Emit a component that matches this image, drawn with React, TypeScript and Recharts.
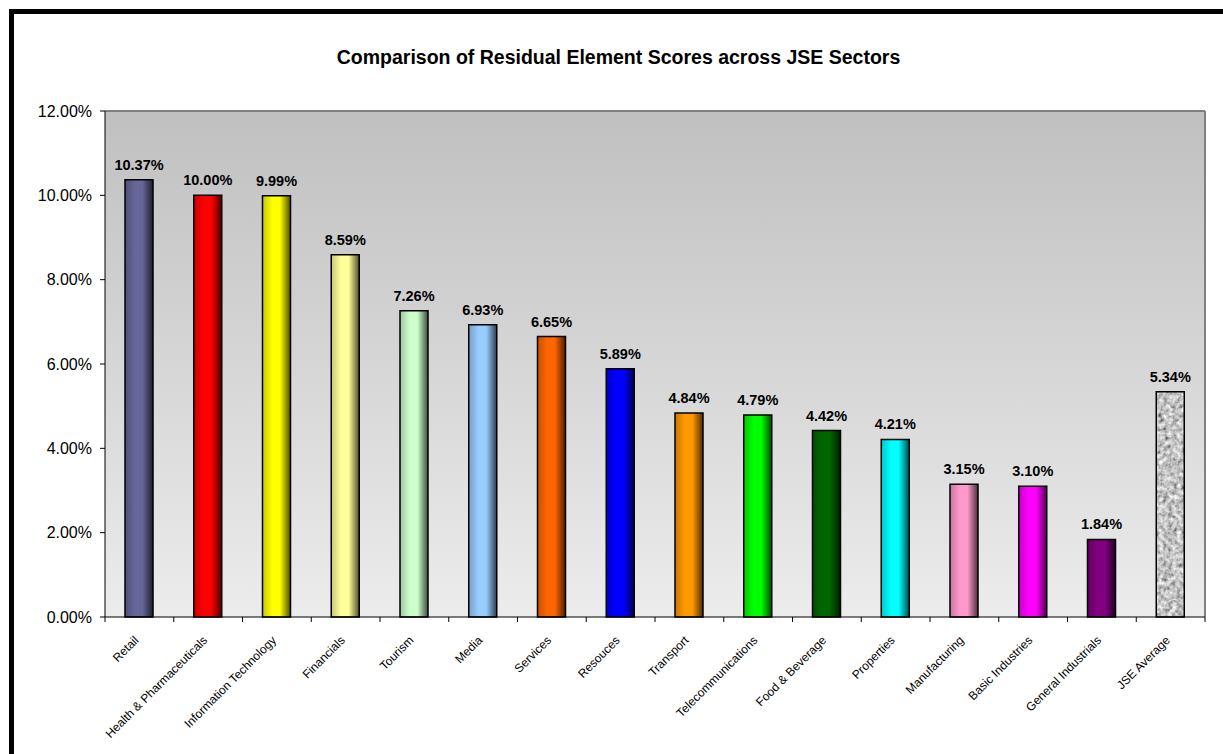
import { BarChart, Bar, XAxis, YAxis, CartesianGrid, Cell, LabelList } from "recharts";

const sectors = [
  "Retail",
  "Health & Pharmaceuticals",
  "Information Technology",
  "Financials",
  "Tourism",
  "Media",
  "Services",
  "Resouces",
  "Transport",
  "Telecommunications",
  "Food & Beverage",
  "Properties",
  "Manufacturing",
  "Basic Industries",
  "General Industrials",
  "JSE Average",
];

const scores = [10.37, 10.0, 9.99, 8.59, 7.26, 6.93, 6.65, 5.89, 4.84, 4.79, 4.42, 4.21, 3.15, 3.1, 1.84, 5.34];

const barColors = [
  "#666699",
  "#ff0000",
  "#ffff00",
  "#ffff99",
  "#ccffcc",
  "#99ccff",
  "#ff6600",
  "#0000ff",
  "#ff9900",
  "#00ff00",
  "#006600",
  "#00ffff",
  "#ff99cc",
  "#ff00ff",
  "#800080",
  "granite",
];

const yTicks = [0, 2, 4, 6, 8, 10, 12];

const data = sectors.map((name, i) => ({ name, value: scores[i] }));

const pct = (v: number) => `${Number(v).toFixed(2)}%`;

// darken a hex colour towards black
function shade(hex: string, f: number) {
  const n = parseInt(hex.slice(1), 16);
  const r = Math.round(((n >> 16) & 255) * f);
  const g = Math.round(((n >> 8) & 255) * f);
  const b = Math.round((n & 255) * f);
  return `rgb(${r},${g},${b})`;
}

function SectorTick(props: any) {
  const { x, y, payload, index } = props;
  const half = payload.offset ?? 34.4;
  const axisY = y - 5;
  return (
    <g>
      <line x1={x - half} y1={axisY} x2={x - half} y2={axisY + 5} stroke="#000" />
      {index === sectors.length - 1 && (
        <line x1={x + half} y1={axisY} x2={x + half} y2={axisY + 5} stroke="#000" />
      )}
      <g transform={`translate(${x},${axisY + 24})`}>
        <text
          transform="rotate(-45)"
          textAnchor="end"
          fontSize={12}
          fontFamily="'Liberation Sans', Arial, sans-serif"
          fill="#000"
        >
          {payload.value}
        </text>
      </g>
    </g>
  );
}

export default function App() {
  return (
    <div
      style={{
        position: "absolute",
        left: 0,
        top: 0,
        width: 1223,
        height: 754,
        overflow: "hidden",
        background: "#fff",
      }}
    >
      <div
        style={{
          position: "absolute",
          left: 9,
          top: 9,
          width: 1300,
          height: 900,
          border: "5px solid #000",
        }}
      />
      <div
        style={{
          position: "absolute",
          left: 14,
          top: 46,
          width: 1209,
          textAlign: "center",
          fontFamily: "'Liberation Sans', Arial, sans-serif",
          fontWeight: "bold",
          fontSize: 19.5,
          color: "#000",
        }}
      >
        Comparison of Residual Element Scores across JSE Sectors
      </div>
      <div style={{ position: "absolute", left: 0, top: 0 }}>
        <BarChart
          width={1223}
          height={754}
          data={data}
          margin={{ top: 111, right: 18, bottom: 7, left: 15 }}
          barCategoryGap={0}
        >
          <defs>
            <linearGradient id="plotBg" x1="0" y1="0" x2="0" y2="1">
              <stop offset="0%" stopColor="#c0c0c0" />
              <stop offset="100%" stopColor="#ececec" />
            </linearGradient>
            {barColors.map((c, i) =>
              c === "granite" ? null : (
                <linearGradient key={i} id={`bar${i}`} x1="0" y1="0" x2="1" y2="0">
                  <stop offset="0%" stopColor={shade(c, 0.78)} />
                  <stop offset="35%" stopColor={c} />
                  <stop offset="62%" stopColor={c} />
                  <stop offset="100%" stopColor={shade(c, 0.3)} />
                </linearGradient>
              )
            )}
            <filter id="graniteNoise" x="0" y="0" width="100%" height="100%">
              <feTurbulence type="fractalNoise" baseFrequency="0.22" numOctaves={3} seed={7} />
              <feColorMatrix type="saturate" values="0" />
              <feComponentTransfer>
                <feFuncR type="linear" slope={1.7} intercept={-0.3} />
                <feFuncG type="linear" slope={1.7} intercept={-0.3} />
                <feFuncB type="linear" slope={1.7} intercept={-0.3} />
                <feFuncA type="linear" slope={0} intercept={1} />
              </feComponentTransfer>
            </filter>
            <pattern id="granite" patternUnits="userSpaceOnUse" width={300} height={300}>
              <rect width={300} height={300} fill="#bbb" filter="url(#graniteNoise)" />
            </pattern>
          </defs>
          <CartesianGrid
            fill="url(#plotBg)"
            stroke="#808080"
            strokeWidth={2}
            horizontalCoordinatesGenerator={({ offset }: any) => [offset.top]}
            verticalCoordinatesGenerator={({ offset }: any) => [offset.left + offset.width]}
          />
          <XAxis
            dataKey="name"
            interval={0}
            height={130}
            tickLine={false}
            tickSize={5}
            tickMargin={0}
            axisLine={{ stroke: "#000" }}
            tick={<SectorTick />}
          />
          <YAxis
            domain={[0, 12]}
            ticks={yTicks}
            width={90}
            tickSize={5}
            tickMargin={8}
            tickFormatter={pct}
            axisLine={{ stroke: "#000" }}
            tickLine={{ stroke: "#000" }}
            tick={{
              fontSize: 16,
              fill: "#000",
              fontFamily: "'Liberation Sans', Arial, sans-serif",
            }}
          />
          <Bar dataKey="value" barSize={28} stroke="#000" strokeWidth={1.5} isAnimationActive={false}>
            {data.map((_, i) => (
              <Cell key={i} fill={barColors[i] === "granite" ? "url(#granite)" : `url(#bar${i})`} />
            ))}
            <LabelList
              dataKey="value"
              position="top"
              offset={10}
              formatter={pct}
              style={{
                fontSize: 14.5,
                fontWeight: "bold",
                fill: "#000",
                fontFamily: "'Liberation Sans', Arial, sans-serif",
              }}
            />
          </Bar>
        </BarChart>
      </div>
    </div>
  );
}
